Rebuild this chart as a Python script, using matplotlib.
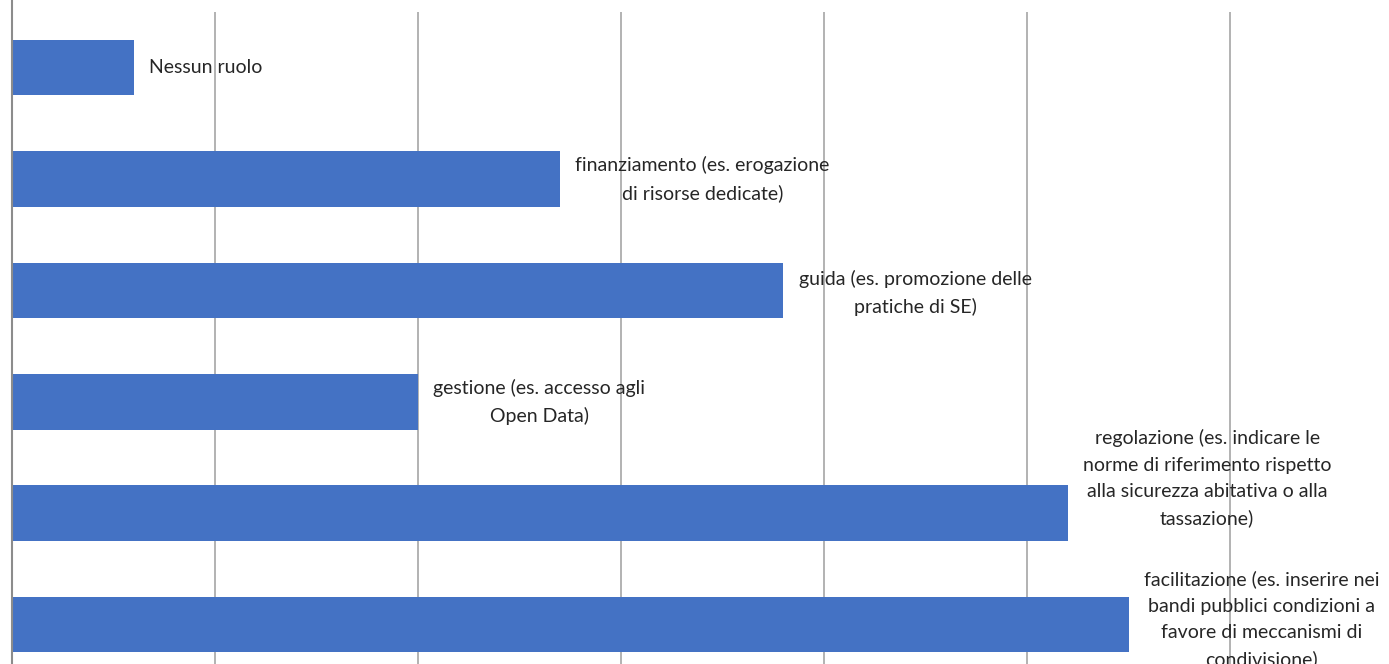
import matplotlib.pyplot as plt

# data (top to bottom)
labels = [
    "Nessun ruolo",
    "finanziamento (es. erogazione\ndi risorse dedicate)",
    "guida (es. promozione delle\npratiche di SE)",
    "gestione (es. accesso agli\nOpen Data)",
    "regolazione (es. indicare le\nnorme di riferimento rispetto\nalla sicurezza abitativa o alla\ntassazione)",
    "facilitazione (es. inserire nei\nbandi pubblici condizioni a\nfavore di meccanismi di\ncondivisione)",
]
values = [3, 13.5, 19, 10, 26, 27.5]
# vertical nudge of each data label, in points
label_dy = [0, 0, -2, 0, 25, 3.5]

plt.rcParams['font.family'] = ['Lato', 'DejaVu Sans']

fig = plt.figure(figsize=(13.89, 6.64), dpi=100)
ax = fig.add_axes([12 / 1389, -16 / 664, 1377 / 1389, 668 / 664])

pos = list(range(len(values)))
ax.barh(pos, values, height=0.5, color='#4472C4', zorder=2)

for y, v, lab, dy in zip(pos, values, labels, label_dy):
    ax.annotate(lab, (v, y), xytext=(11, dy), textcoords='offset points',
                ha='left', va='center', multialignment='center',
                fontsize=14, color='#262626', linespacing=1.65,
                zorder=3, annotation_clip=False)

ax.set_xlim(0, 1377 / 203 * 5)
ax.set_ylim(len(values) - 0.5, -0.5)
ax.set_xticks([5, 10, 15, 20, 25, 30])
ax.set_yticks([])
ax.tick_params(axis='x', length=0, labelbottom=False)
ax.grid(axis='x', color='#a6a6a6', linewidth=1.2, zorder=1)

for s in ['top', 'right', 'bottom', 'left']:
    ax.spines[s].set_visible(False)
# vertical axis line, running up to the top edge
ax.axvline(0, ymin=0, ymax=1.05, color='#8c8c8c', linewidth=1.5,
           clip_on=False, zorder=4)

fig.savefig('out.png', dpi=100)
